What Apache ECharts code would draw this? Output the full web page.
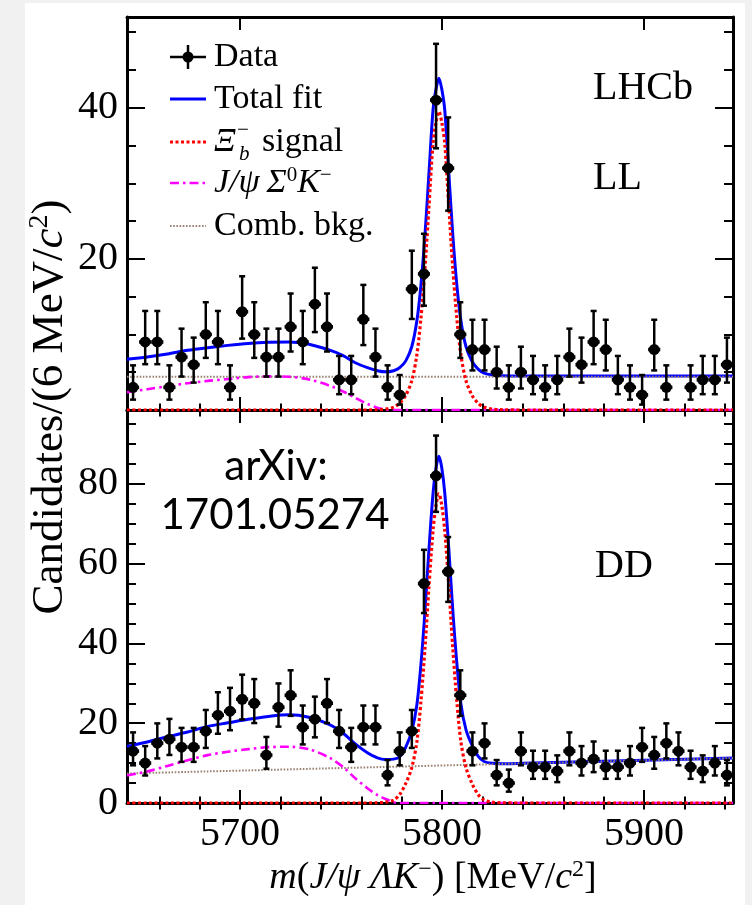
<!DOCTYPE html>
<html>
<head>
<meta charset="utf-8">
<script src="https://cdn.jsdelivr.net/npm/echarts@6/dist/echarts.min.js"></script>
<style>
  html, body { margin: 0; padding: 0; background: #f1f1f1; }
  #c { width: 752px; height: 905px; }
</style>
</head>
<body>
<div id="c"></div>
<script>
// Bin centres of the 6 MeV/c^2 mass histogram
const massBins = [5647,5653,5659,5665,5671,5677,5683,5689,5695,5701,5707,5713,5719,5725,5731,5737,5743,5749,5755,5761,
                  5767,5773,5779,5785,5791,5797,5803,5809,5815,5821,5827,5833,5839,5845,5851,5857,5863,5869,5875,5881,
                  5887,5893,5899,5905,5911,5917,5923,5929,5935,5941];
// Candidates per bin, Lambda reconstructed from long tracks (LL) and downstream tracks (DD)
const countsLL = [3,9,9,3,7,6,10,9,3,13,10,7,7,11,9,14,11,4,4,12,
                  7,3,2,16,18,41,32,10,8,8,5,3,5,4,3,4,7,6,9,8,
                  4,3,2,8,3,0,3,4,4,6];
const countsDD = [13,10,15,16,14,14,18,22,23,26,25,12,24,27,19,21,25,18,14,19,
                  19,7,13,18,55,82,58,27,13,15,7,5,13,9,9,8,13,10,11,9,
                  9,10,14,12,15,13,9,8,10,7];

// Sampling points of the fit curves
const curveX = [5644,5654,5664,5674,5684,5694,5704,5714,5724,5734,5744,5751,5757,5763,5768,
                5772,5776,5779,5782,5785,5787.5,5789.5,5791.5,5793.5,5795.5,5797,5798.4,5799.8,5801.3,5803.3,
                5805.3,5807.3,5809.3,5811.8,5814.8,5817.8,5820.8,5824.8,5830,5840,5860,5880,5900,5920,5944];

// LL fit components
const signalLL = [0,0,0,0,0,0,0,0,0,0,0,0,0,0,0.03,
                  0.13,0.38,0.9,1.95,3.9,7.3,12.1,18.7,27.0,35.3,38.1,39.5,38.1,35.3,27.0,
                  18.7,12.1,7.3,3.9,1.95,0.9,0.38,0.13,0.03,0,0,0,0,0,0];
const partRecoLL = [2.35,2.75,3.15,3.55,3.85,4.1,4.35,4.45,4.4,4.05,3.25,2.45,1.6,0.8,0.3,
                    0.05,0,0,0,0,0,0,0,0,0,0,0,0,0,0,
                    0,0,0,0,0,0,0,0,0,0,0,0,0,0,0];
const totalLL = [6.7,7.0,7.4,7.9,8.25,8.55,8.8,8.95,9.0,8.7,7.95,7.2,6.25,5.6,5.2,
                 5.05,5.2,5.6,6.5,8.4,11.8,16.5,23.1,31.4,39.7,42.5,43.9,42.5,39.7,31.4,
                 23.1,16.5,11.8,8.4,6.45,5.4,4.88,4.63,4.53,4.5,4.5,4.5,4.5,4.5,4.5];

// DD fit components
const signalDD = [0,0,0,0,0,0,0,0,0,0,0,0,0,0,0.05,
                  0.2,0.73,2.15,4.9,8.9,15.35,25.4,38.7,54.4,68.3,74.7,77.5,74.7,68.3,54.4,
                  38.7,25.4,15.35,8.9,4.9,2.15,0.73,0.2,0.04,0,0,0,0,0,0];
const partRecoDD = [6.9,7.9,9.3,10.7,12.0,12.85,13.5,14.0,14.1,13.5,11.4,9.0,6.2,3.7,2.0,
                    1.0,0.2,0,0,0,0,0,0,0,0,0,0,0,0,0,
                    0,0,0,0,0,0,0,0,0,0,0,0,0,0,0];
const totalDD = [14.2,15.3,16.6,17.8,19.2,20.1,21.0,21.7,22.1,21.5,19.7,17.5,14.8,12.6,11.3,
                 10.9,11.0,11.6,14.0,18.1,24.6,34.65,48.0,63.7,77.6,84.0,86.9,84.1,77.7,63.8,
                 48.1,34.9,24.85,18.4,14.5,11.75,10.4,9.95,9.85,9.95,10.2,10.45,10.7,10.95,11.25];

// Combinatorial background (linear) endpoints
const combX = [5644, 5944];
const combLL = [4.4, 4.4];
const combDD = [7.4, 11.25];

// Axis ticks and labels
const xRange = [5644, 5944];
const xMajorTicks = [5700, 5800, 5900];
const xMinorTicks = [5660,5680,5700,5720,5740,5760,5780,5800,5820,5840,5860,5880,5900,5920,5940];
const yRangeLL = [0, 52];
const yRangeDD = [0, 98.5];
const yMajorLL = [0, 20, 40];
const yLabelsLL = [20, 40];
const yMinorLL = [5,10,15,20,25,30,35,40,45,50];
const yMajorDD = [0, 20, 40, 60, 80];
const yLabelsDD = [0, 20, 40, 60, 80];
const yMinorDD = [5,10,15,20,25,30,35,40,45,50,55,60,65,70,75,80,85,90,95];

const serif = '"Liberation Serif", "Times New Roman", serif';
const sans = 'Lato, "Open Sans", sans-serif';

// Garwood (central 68.3%) Poisson interval, Wilson-Hilferty form
function poissonErr(n) {
  const lo = n * Math.pow(1 - 1 / (9 * n) - 1 / (3 * Math.sqrt(n)), 3);
  const m = n + 1;
  const hi = m * Math.pow(1 - 1 / (9 * m) + 1 / (3 * Math.sqrt(m)), 3);
  return [lo, hi];
}

const panels = [
  { grid: { left: 127, top: 17, width: 606, height: 393 }, yRange: yRangeLL, yMajor: yMajorLL, yLabels: yLabelsLL, yMinor: yMinorLL, xLabels: false },
  { grid: { left: 127, top: 410, width: 606, height: 393 }, yRange: yRangeDD, yMajor: yMajorDD, yLabels: yLabelsDD, yMinor: yMinorDD, xLabels: true }
];

const tickStyle = { color: '#000', width: 2 };
const frameLine = { show: true, onZero: false, lineStyle: { color: '#000', width: 3 } };
const labelFont = { color: '#000', fontFamily: serif, fontSize: 40, formatter: v => String(v) };

const xAxes = [], yAxes = [];
panels.forEach((p, g) => {
  const xb = { gridIndex: g, type: 'value', min: xRange[0], max: xRange[1], splitLine: { show: false } };
  xAxes.push(
    Object.assign({}, xb, { position: 'bottom', axisLine: frameLine,
      axisTick: { show: true, inside: true, length: 13, customValues: xMajorTicks, lineStyle: tickStyle },
      axisLabel: Object.assign({ show: p.xLabels, customValues: xMajorTicks, margin: 11 }, labelFont) }),
    Object.assign({}, xb, { position: 'bottom', axisLine: { show: false },
      axisTick: { show: true, inside: true, length: 6.5, customValues: xMinorTicks, lineStyle: tickStyle },
      axisLabel: { show: false } }),
    Object.assign({}, xb, { position: 'top', axisLine: frameLine,
      axisTick: { show: true, inside: true, length: 13, customValues: xMajorTicks, lineStyle: tickStyle },
      axisLabel: { show: false } }),
    Object.assign({}, xb, { position: 'top', axisLine: { show: false },
      axisTick: { show: true, inside: true, length: 6.5, customValues: xMinorTicks, lineStyle: tickStyle },
      axisLabel: { show: false } })
  );
  const yb = { gridIndex: g, type: 'value', min: p.yRange[0], max: p.yRange[1], splitLine: { show: false } };
  yAxes.push(
    Object.assign({}, yb, { position: 'left', axisLine: frameLine,
      axisTick: { show: true, inside: true, length: 18, customValues: p.yMajor, lineStyle: tickStyle },
      axisLabel: Object.assign({ show: true, customValues: p.yLabels, margin: 9 }, labelFont) }),
    Object.assign({}, yb, { position: 'left', axisLine: { show: false },
      axisTick: { show: true, inside: true, length: 9, customValues: p.yMinor, lineStyle: tickStyle },
      axisLabel: { show: false } }),
    Object.assign({}, yb, { position: 'right', axisLine: frameLine,
      axisTick: { show: true, inside: true, length: 18, customValues: p.yMajor, lineStyle: tickStyle },
      axisLabel: { show: false } }),
    Object.assign({}, yb, { position: 'right', axisLine: { show: false },
      axisTick: { show: true, inside: true, length: 9, customValues: p.yMinor, lineStyle: tickStyle },
      axisLabel: { show: false } })
  );
});

const pairs = (xs, ys) => xs.map((x, i) => [x, ys[i]]);

function curve(g, xs, ys, color, width, dash, z) {
  return {
    type: 'line', xAxisIndex: 4 * g, yAxisIndex: 4 * g, data: pairs(xs, ys),
    showSymbol: false, smooth: 0.3, z: z, silent: true,
    lineStyle: { color: color, width: width, type: dash }
  };
}

function dataPoints(g, counts) {
  const items = [];
  massBins.forEach((m, i) => {
    const n = counts[i];
    if (n > 0) {
      const [lo, hi] = poissonErr(n);
      items.push([m, n, lo, hi]);
    }
  });
  return {
    type: 'custom', xAxisIndex: 4 * g, yAxisIndex: 4 * g, z: 10, silent: true, data: items,
    renderItem: (params, api) => {
      const x = api.value(0), y = api.value(1);
      const c = api.coord([x, y]);
      const l = api.coord([x - 3, y]), r = api.coord([x + 3, y]);
      const lo = api.coord([x, api.value(2)]), hi = api.coord([x, api.value(3)]);
      const st = { stroke: '#000', lineWidth: 2.5 };
      return {
        type: 'group', children: [
          { type: 'line', shape: { x1: c[0], y1: lo[1], x2: c[0], y2: hi[1] }, style: st },
          { type: 'line', shape: { x1: c[0] - 3, y1: hi[1], x2: c[0] + 3, y2: hi[1] }, style: st },
          { type: 'line', shape: { x1: c[0] - 3, y1: lo[1], x2: c[0] + 3, y2: lo[1] }, style: st },
          { type: 'line', shape: { x1: l[0], y1: c[1], x2: r[0], y2: c[1] }, style: { stroke: '#000', lineWidth: 3.5 } },
          { type: 'circle', shape: { cx: c[0], cy: c[1], r: 5.5 }, style: { fill: '#000' } }
        ]
      };
    }
  };
}

const BLUE = '#0000ff', RED = '#ff0000', MAGENTA = '#ff00ff', BROWN = '#9a8272';
const DOT_RED = [3, 2.5], DASHDOT = [9, 4, 2.5, 4], DOT_FINE = [1.6, 1.6];

const series = [];
[[countsLL, signalLL, partRecoLL, totalLL, combLL], [countsDD, signalDD, partRecoDD, totalDD, combDD]]
  .forEach(([counts, sig, pr, tot, comb], g) => {
    series.push(
      curve(g, curveX, tot, BLUE, 3, 'solid', 3),
      curve(g, combX, comb, BROWN, 2, DOT_FINE, 4),
      curve(g, curveX, pr, MAGENTA, 2.6, DASHDOT, 4),
      curve(g, curveX, sig, RED, 3.2, DOT_RED, 5),
      dataPoints(g, counts)
    );
  });

// Math-style rich text pieces
const richBase = (size) => ({
  n: { fontFamily: serif, fontSize: size, fill: '#000', color: '#000' },
  i: { fontFamily: serif, fontSize: size, fontStyle: 'italic', fill: '#000', color: '#000' },
  sup: { fontFamily: serif, fontSize: Math.round(size * 0.62), fill: '#000', color: '#000', padding: [0, 0, Math.round(size * 0.45), 0] }
});

function label(x, y, text, opts) {
  return Object.assign({
    type: 'text', x: x, y: y, silent: true,
    style: Object.assign({ text: text, fill: '#000', font: '34px ' + serif, align: 'left', verticalAlign: 'middle',
                           textAlign: 'left', textVerticalAlign: 'middle' }, opts && opts.style)
  }, opts && opts.el);
}

const LEG = { x0: 170, x1: 206, tx: 214 };
const legendRows = [57, 99, 142, 183, 226];

const graphic = [
  { type: 'rect', z: -10, silent: true, shape: { x: 25, y: 3, width: 720, height: 902 }, style: { fill: '#fff' } },
  // y-axis title
  { type: 'text', x: 50, y: 407, rotation: Math.PI / 2, silent: true,
    style: { text: '{n|Candidates/(6 MeV/}{i|c}{sup|2}{n|)}', rich: richBase(45), align: 'center', verticalAlign: 'middle',
             textAlign: 'center', textVerticalAlign: 'middle' } },
  // x-axis title
  { type: 'text', x: 433, y: 878, silent: true,
    style: { text: '{i|m}{n|(}{i|J/ψ ΛK}{sup|−}{n|) [MeV/}{i|c}{sup|2}{n|]}', rich: richBase(38), align: 'center', verticalAlign: 'middle',
             textAlign: 'center', textVerticalAlign: 'middle' } },
  // panel annotations
  label(593, 88, 'LHCb', { style: { font: '40px ' + serif } }),
  label(593, 178, 'LL', { style: { font: '40px ' + serif } }),
  label(595, 566, 'DD', { style: { font: '40px ' + serif } }),
  label(276, 466, 'arXiv:', { style: { font: '42px ' + sans, align: 'center', textAlign: 'center' } }),
  label(275, 515, '1701.05274', { style: { font: '42px ' + sans, align: 'center', textAlign: 'center' } }),

  // legend: data
  { type: 'line', silent: true, shape: { x1: LEG.x0, y1: legendRows[0], x2: LEG.x1, y2: legendRows[0] }, style: { stroke: '#000', lineWidth: 2.5 } },
  { type: 'line', silent: true, shape: { x1: 188, y1: legendRows[0] - 12, x2: 188, y2: legendRows[0] + 12 }, style: { stroke: '#000', lineWidth: 2.5 } },
  { type: 'circle', silent: true, shape: { cx: 188, cy: legendRows[0], r: 5.5 }, style: { fill: '#000' } },
  label(LEG.tx, legendRows[0], 'Data'),
  // legend: total fit
  { type: 'line', silent: true, shape: { x1: LEG.x0, y1: legendRows[1], x2: LEG.x1, y2: legendRows[1] }, style: { stroke: BLUE, lineWidth: 3 } },
  label(LEG.tx, legendRows[1], 'Total fit'),
  // legend: signal
  { type: 'line', silent: true, shape: { x1: LEG.x0, y1: legendRows[2], x2: LEG.x1, y2: legendRows[2] }, style: { stroke: RED, lineWidth: 3.2, lineDash: DOT_RED } },
  label(LEG.tx, legendRows[2], 'Ξ', { style: { font: 'italic 34px ' + serif } }),
  label(237, legendRows[2] - 12, '−', { style: { font: '21px ' + serif } }),
  label(239, legendRows[2] + 12, 'b', { style: { font: 'italic 21px ' + serif } }),
  label(262, legendRows[2], 'signal'),
  // legend: J/psi Sigma0 K-
  { type: 'line', silent: true, shape: { x1: LEG.x0, y1: legendRows[3], x2: LEG.x1, y2: legendRows[3] }, style: { stroke: MAGENTA, lineWidth: 2.6, lineDash: DASHDOT } },
  { type: 'text', x: LEG.tx, y: legendRows[3], silent: true,
    style: { text: '{i|J/ψ\u2009Σ}{sup|0}{i|K}{sup|−}', rich: richBase(34), align: 'left', verticalAlign: 'middle', textAlign: 'left', textVerticalAlign: 'middle' } },
  // legend: combinatorial
  { type: 'line', silent: true, shape: { x1: LEG.x0, y1: legendRows[4], x2: LEG.x1, y2: legendRows[4] }, style: { stroke: BROWN, lineWidth: 2, lineDash: DOT_FINE } },
  label(LEG.tx, legendRows[4], 'Comb. bkg.')
];

const chart = echarts.init(document.getElementById('c'));
chart.setOption({
  animation: false,
  backgroundColor: 'transparent',
  grid: panels.map(p => Object.assign({ containLabel: false }, p.grid)),
  xAxis: xAxes,
  yAxis: yAxes,
  series: series,
  graphic: graphic
});
</script>
</body>
</html>
